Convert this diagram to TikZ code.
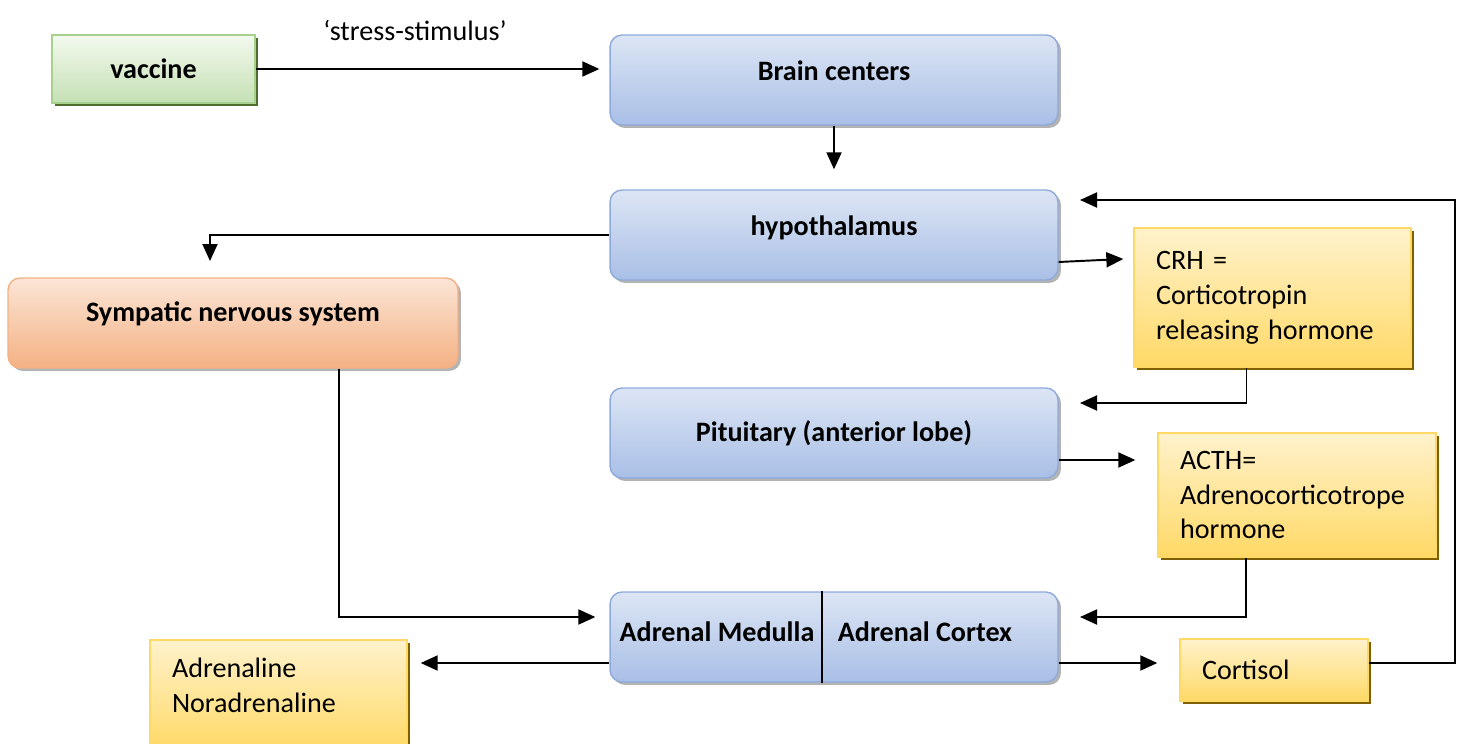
\documentclass[tikz,border=0pt]{standalone}
\usepackage{fontspec}
\setmainfont{Carlito}
\usetikzlibrary{calc,shadows,arrows.meta}

\definecolor{bluelt}{HTML}{DCE5F4}
\definecolor{bluedk}{HTML}{A9BFE6}
\definecolor{blueln}{HTML}{8EAADB}
\definecolor{greenlt}{HTML}{F3F9EE}
\definecolor{greendk}{HTML}{C5E0B4}
\definecolor{greenln}{HTML}{A9D18E}
\definecolor{greensh}{HTML}{4E6B30}
\definecolor{orangelt}{HTML}{FBE5D6}
\definecolor{orangedk}{HTML}{F4B183}
\definecolor{orangeln}{HTML}{F4B183}
\definecolor{yellowlt}{HTML}{FFF2CC}
\definecolor{yellowdk}{HTML}{FFD966}
\definecolor{yellowln}{HTML}{FFD966}
\definecolor{yellowsh}{HTML}{7F6000}

\tikzset{
  txt/.style={font=\fontsize{16}{19.9}\selectfont},
  arr/.style={line width=1.1pt,-{Triangle[length=0.34cm,width=0.3cm]}},
  ln/.style={line width=1.1pt},
  bluebox/.style={draw=blueln,line width=0.8pt,rounded corners=0.24cm,
    top color=bluelt,bottom color=bluedk,
    minimum width=8.96cm,minimum height=1.8cm,
    font=\fontsize{16}{19.9}\selectfont\bfseries,
    drop shadow={shadow xshift=0.06cm,shadow yshift=-0.06cm,fill=gray,opacity=0.6}},
  orangebox/.style={bluebox,draw=orangeln,top color=orangelt,bottom color=orangedk,
    minimum width=9cm},
  greenbox/.style={draw=greenln,line width=1.2pt,top color=greenlt,bottom color=greendk,
    minimum width=4.06cm,minimum height=1.36cm,
    font=\fontsize{16}{19.9}\selectfont\bfseries,
    drop shadow={shadow xshift=0.06cm,shadow yshift=-0.06cm,fill=greensh,opacity=1}},
  yellowbox/.style={draw=yellowln,line width=0.8pt,top color=yellowlt,bottom color=yellowdk,
    inner xsep=0.44cm,align=left,txt,
    drop shadow={shadow xshift=0.06cm,shadow yshift=-0.06cm,fill=yellowsh,opacity=1}}
}

\begin{document}
\begin{tikzpicture}[x=0.02cm,y=-0.02cm]
\useasboundingbox (0,0) rectangle (1462,743);

\node[greenbox] (vaccine) at (153.5,69) {vaccine};
\node[txt] (stimulus) at (415,30) {‘stress-stimulus’};

\node[bluebox,text depth=0.36cm] (brain) at (834,80) {Brain centers};
\node[bluebox,text depth=0.36cm] (hypo) at (834,235) {hypothalamus};
\node[bluebox] (pit) at (834,433) {Pituitary (anterior lobe)};
\node[bluebox] (adrenal) at (834,637) {};
\node[txt,font=\fontsize{16}{19.9}\selectfont\bfseries] (medulla) at (717,632) {Adrenal Medulla};
\node[txt,font=\fontsize{16}{19.9}\selectfont\bfseries] (cortex) at (925,632) {Adrenal Cortex};
\coordinate (divider) at (822,0);
\draw[ln] (adrenal.north -| divider) -- (adrenal.south -| divider);

\node[orangebox,text depth=0.45cm] (symp) at (233,323) {Sympatic nervous system};

\node[yellowbox,minimum width=5.54cm,minimum height=2.78cm,text width=4.66cm] (crh) at (1272.5,297.5)
  {CRH =\\Corticotropin\\releasing hormone};
\node[yellowbox,minimum width=5.56cm,minimum height=2.48cm,text width=4.68cm] (acth) at (1297,495)
  {ACTH=\\Adrenocorticotrope\\hormone};
\node[yellowbox,minimum width=3.76cm,minimum height=1.24cm,text width=2.88cm] (cortisol) at (1274,670)
  {Cortisol};
\node[yellowbox,minimum width=5.14cm,minimum height=2.2cm,text width=4.26cm,text depth=1.1cm] (adren) at (278.5,695)
  {Adrenaline\\Noradrenaline};

\coordinate (sympin) at (210,261);
\coordinate (pitin) at (1080,403);
\coordinate (adrin) at (1080,617);
\coordinate (loop) at (1455,200);
\coordinate (hypoin) at (1080,200);

\draw[arr,shorten >=0.2cm] (vaccine.east) -- (vaccine.east -| brain.west);
\draw[arr,shorten >=0.4cm] (brain) -- (hypo);
\draw[arr] (hypo.west) -| (sympin);
\draw[arr,shorten >=0.2cm] ($(hypo.east)+(0,27)$) -- ($(crh.west)+(0,-39)$);
\draw[arr] ($(crh.south)+(-26,0)$) |- (pitin);
\draw[arr,shorten >=0.44cm] ($(pit.east)+(0,27)$) -- ($(acth.west)+(0,-35)$);
\draw[arr] ($(acth.south)+(-51,0)$) |- (adrin);
\draw[arr] ($(symp.south)+(106,0)$) |- ($(adrenal.west)+(-14,-20)$);
\draw[arr,shorten >=0.26cm] ($(adrenal.west)+(0,26)$) -- ($(adren.east)+(0,-32)$);
\draw[arr,shorten >=0.44cm] ($(adrenal.east)+(0,26)$) -- ($(cortisol.west)+(0,-7)$);
\draw[arr] ($(cortisol.east)+(0,-7)$) -| (loop) -- (hypoin);

\end{tikzpicture}
\end{document}
